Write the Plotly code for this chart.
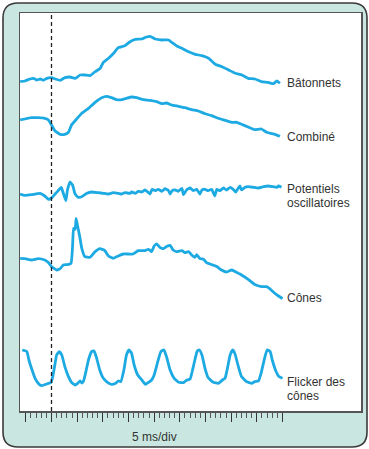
import plotly.graph_objects as go

# ---------------- data (time in ms, amplitude in arbitrary units) ----------------
bat_t = [-6.1, -5.2, -4.2, -3.5, -2.9, -2.2, -1.6, -0.9, 0.0, 0.7, 1.7, 2.6, 3.6, 4.6, 5.6, 6.5, 7.5,
         8.5, 9.5, 10.1, 11.1, 12.1, 13.0, 14.3, 15.3, 16.3, 17.6, 18.5, 19.2, 20.2, 21.5, 22.8, 23.4,
         24.4, 25.4, 26.7, 28.0, 29.3, 30.6, 31.9, 33.2, 34.5, 35.8, 37.1, 38.3, 39.6, 40.9, 42.2,
         43.2, 43.9, 44.5]
bat_v = [-1.7, -1.0, 1.0, 1.7, 0.0, 1.0, -0.3, 1.7, 2.3, 1.0, -0.3, 2.3, 3.0, 1.7, 5.0, 5.0, 4.3,
         8.3, 11.7, 17.7, 21.7, 26.7, 32.3, 34.3, 38.3, 40.7, 41.0, 43.0, 43.7, 41.0, 40.0, 40.0, 37.7,
         34.0, 31.7, 28.3, 25.7, 24.3, 21.7, 15.7, 13.3, 10.0, 6.7, 5.0, 1.7, 1.0, -1.7, -2.3,
         -3.7, -1.0, -3.3]

comb_t = [-6.1, -5.2, -3.9, -2.6, -1.3, -0.6, 0.0, 0.7, 1.7, 2.6, 3.3, 3.9, 4.9, 5.9, 7.2, 8.5, 9.8,
          10.7, 11.7, 12.7, 13.7, 14.6, 15.6, 16.6, 17.9, 19.2, 20.5, 21.5, 22.4, 23.4, 24.7, 26.0,
          27.3, 28.6, 29.9, 31.2, 32.5, 33.8, 35.1, 36.1, 37.0, 38.3, 39.6, 40.9, 41.9, 42.9, 43.5, 44.5]
comb_v = [0.0, 1.0, 2.3, 2.3, 1.7, 0.0, -5.0, -11.0, -14.3, -14.3, -12.3, -5.0, 1.0, 6.7, 11.7, 17.7,
          22.3, 23.7, 22.3, 20.3, 20.3, 21.7, 23.0, 22.3, 20.3, 19.7, 18.3, 16.3, 17.0, 15.0, 13.7,
          12.3, 10.3, 9.0, 6.3, 4.3, 1.7, -0.3, -2.3, -2.3, -4.3, -7.0, -9.7, -9.0, -12.3, -13.7,
          -14.3, -16.3]

po_t = [-6.1, -5.2, -3.9, -2.2, -1.3, -0.6, 0.0, 0.7, 1.3, 1.9, 2.3, 2.8, 3.1, 3.6, 4.1, 4.6, 5.2,
        5.9, 6.9, 7.8, 9.1, 10.1, 11.1, 12.0, 13.0, 13.7, 14.3, 15.3, 15.6, 16.3, 16.9, 17.6, 18.2,
        18.9, 19.2, 19.6, 20.2, 20.8, 21.5, 22.1, 22.8, 23.1, 23.5, 24.1, 24.7, 25.4, 25.7, 26.3,
        27.0, 27.6, 28.3, 28.9, 29.3, 29.9, 30.5, 31.2, 31.5, 31.8, 32.2, 32.8, 33.5, 34.1, 34.8,
        35.4, 35.9, 36.3, 36.7, 37.0, 37.7, 38.3, 39.3, 40.3, 41.3, 42.2, 43.2, 43.9, 44.2, 44.8]
po_v = [0.0, -1.3, -0.7, 0.7, -2.0, -5.3, -4.0, 0.0, 3.3, 6.7, 0.7, -6.7, 4.0, 12.0, 9.0, 0.0, -3.3,
        -2.7, 0.7, 2.0, 1.3, 0.7, 0.0, 1.3, 0.7, 0.0, 1.3, 0.7, 2.0, 0.7, 2.7, 2.0, 4.0,
        1.3, 0.0, 4.7, 3.3, 4.7, 2.7, 5.3, 3.3, 0.0, 3.3, 4.0, 2.7, 5.7, -0.7, 4.0,
        6.0, 3.3, 4.7, 0.0, 4.0, 4.7, 3.3, 4.7, 1.3, -2.0, 4.7, 3.3, 6.0, 4.0, 6.7,
        4.7, 2.0, 5.3, 8.0, 4.0, 6.7, 7.3, 6.7, 6.0, 7.3, 8.0, 7.3, 6.7, 8.0, 6.7]

cone_t = [-6.1, -5.2, -3.9, -2.6, -1.3, -0.6, 0.0, 1.0, 1.7, 2.3, 3.1, 3.8, 4.1, 4.3, 4.6, 4.8, 5.1,
          5.5, 5.9, 6.5, 7.5, 8.5, 9.4, 10.4, 11.1, 12.0, 13.0, 14.0, 15.0, 15.9, 16.9, 18.2, 18.9,
          19.5, 20.0, 20.5, 21.1, 21.8, 22.4, 23.1, 23.7, 24.4, 25.4, 26.0, 26.7, 27.3, 27.9, 28.3,
          28.9, 29.6, 30.2, 31.2, 32.2, 33.1, 34.1, 35.1, 36.1, 37.0, 38.3, 39.6, 40.9, 41.9, 42.5,
          43.2, 44.2, 45.0]
cone_v = [0.0, -0.3, -1.7, -0.3, -1.7, -4.3, -8.3, -11.7, -10.3, -6.7, -6.3, -5.0, 11.7, 30.0, 29.0,
          40.0, 31.7, 21.7, 10.0, 1.7, 1.0, 6.7, 9.7, 7.7, 2.3, 0.0, 2.3, 4.3, 4.3, 4.3, 7.7, 7.7, 9.0,
          6.7, 12.3, 14.3, 11.0, 9.7, 11.7, 13.0, 8.3, 6.7, 7.7, 5.7, 6.7, 3.3, 1.0, 3.7,
          -0.3, -1.0, -4.3, -6.3, -8.3, -11.7, -13.7, -11.7, -14.3, -16.7, -21.0, -26.3, -28.3, -28.3,
          -30.3, -33.7, -37.7, -40.3]

flk_t = [-5.7, -4.8, -4.4, -3.9, -3.2, -2.4, -1.8, -1.1, -0.6, -0.1, 0.2, 0.6, 1.0, 1.5, 2.0, 2.6,
         3.3, 3.9, 4.6, 5.1, 5.6, 5.9, 6.2, 6.7, 7.2, 7.8, 8.3, 8.8, 9.4, 10.1, 10.9, 11.7, 12.4,
         13.0, 13.5, 14.1, 14.6, 15.1, 15.6, 16.1, 16.8, 17.6, 18.3, 18.9, 19.5, 20.0, 20.7, 21.3,
         21.9, 22.4, 23.1, 23.9, 24.8, 25.7, 26.3, 27.0, 27.4, 28.0, 28.4, 28.8, 29.3, 29.9, 30.5,
         31.5, 32.5, 33.3, 33.8, 34.2, 34.8, 35.3, 35.7, 36.4, 37.0, 38.0, 39.0, 39.6, 40.3, 40.9,
         41.5, 42.0, 42.6, 43.0, 43.7, 44.3, 45.0]
flk_v = [33.3, 31.7, 23.3, 15.0, 5.0, -1.0, -2.3, -1.0, 0.0, 0.7, 5.7, 16.7, 28.3, 31.7, 28.3, 16.7,
         6.7, 1.0, -1.7, 0.0, 2.3, 0.3, 1.7, 11.7, 23.3, 31.7, 32.3, 25.0, 13.3, 5.0, 1.0, -1.0, -0.3,
         2.3, 1.7, 13.3, 28.3, 33.3, 30.0, 18.3, 8.3, 3.3, -1.0, 1.0, 3.3, 8.3, 21.7, 31.7,
         33.3, 26.7, 13.3, 5.0, 1.0, 0.7, 3.0, 4.3, 11.7, 25.0, 32.3, 33.3, 28.3, 15.0, 5.7,
         1.0, 0.0, 3.3, 5.0, 13.3, 28.3, 33.3, 30.0, 16.7, 6.7, 1.7, 0.0, 1.7, 2.3, 11.7,
         25.0, 33.3, 31.7, 23.3, 12.3, 6.7, 5.0]

trace_names = ["Bâtonnets", "Combiné", "Potentiels oscillatoires", "Cônes", "Flicker des cônes"]
trace_offsets = [331, 291, 217, 152.7, 27.7]   # vertical stacking of the records
label_lines = [["Bâtonnets"], ["Combiné"], ["Potentiels", "oscillatoires"], ["Cônes"], ["Flicker des", "cônes"]]
label_y = [[328], [274], [222, 208], [113], [29, 15]]

major_ticks = [-5, 0, 5, 10, 15, 20, 25, 30, 35, 40, 45]
minor_ticks = [m + k for m in major_ticks[:-1] for k in (1, 2, 3, 4)]
scale_label = "5 ms/div"

# ---------------- figure ----------------
W, H = 369, 449
LINE = "#1DAAE3"
TXT = "#333333"

series = [(bat_t, bat_v), (comb_t, comb_v), (po_t, po_v), (cone_t, cone_v), (flk_t, flk_v)]

fig = go.Figure()
for (t, v), name, off in zip(series, trace_names, trace_offsets):
    fig.add_trace(go.Scatter(
        x=t, y=[off + a for a in v], mode="lines", name=name,
        line=dict(color=LINE, width=2.8, shape="spline", smoothing=0.4),
        hoverinfo="skip", showlegend=False))

# plot area in pixels
x0p, x1p, y0p, y1p = 20, 361, 13, 411

def px(x):
    return x / W

def py(y):
    return (H - y) / H

# outer rounded panel
L, R, T, B, r = 3, 367, 3, 447, 15
path = (f"M {px(L+r)},{py(T)} L {px(R-r)},{py(T)} Q {px(R)},{py(T)} {px(R)},{py(T+r)} "
        f"L {px(R)},{py(B-r)} Q {px(R)},{py(B)} {px(R-r)},{py(B)} "
        f"L {px(L+r)},{py(B)} Q {px(L)},{py(B)} {px(L)},{py(B-r)} "
        f"L {px(L)},{py(T+r)} Q {px(L)},{py(T)} {px(L+r)},{py(T)} Z")
fig.add_shape(type="path", path=path, xref="paper", yref="paper", layer="below",
              fillcolor="#C9E7E0", line=dict(color="#3a3a3a", width=1.6))
fig.add_shape(type="rect", xref="paper", yref="paper", layer="below",
              x0=px(x0p), x1=px(x1p), y0=py(y1p), y1=py(y0p),
              fillcolor="white", line=dict(width=0))

fig.add_vline(x=0, line=dict(color="#222222", width=1.3, dash="4px,3px"))

for lines, ys in zip(label_lines, label_y):
    for txt, yy in zip(lines, ys):
        fig.add_annotation(x=45.5, y=yy, xref="x", yref="y", text=txt, showarrow=False,
                           xanchor="left", yanchor="middle",
                           font=dict(family="Liberation Sans, Arial", size=12, color=TXT))

fig.add_annotation(x=px(154.3), y=py(437), xref="paper", yref="paper", text=scale_label,
                   showarrow=False, xanchor="center", yanchor="middle",
                   font=dict(family="Liberation Sans, Arial", size=12, color=TXT))

fig.update_layout(
    width=W, height=H, autosize=False,
    margin=dict(l=0, r=0, t=0, b=0),
    paper_bgcolor="white", plot_bgcolor="rgba(0,0,0,0)",
    xaxis=dict(domain=[px(x0p), px(x1p)], range=[(x0p - 51.5) / 5.134, (x1p - 51.5) / 5.134],
               showgrid=False, zeroline=False, showline=True, mirror=True,
               linecolor="#555555", linewidth=1.5,
               tickmode="array", tickvals=major_ticks, showticklabels=False,
               ticks="outside", ticklen=9, tickwidth=1.2, tickcolor="#333333",
               minor=dict(tickmode="array", tickvals=minor_ticks, ticks="outside",
                          ticklen=5, tickwidth=1, tickcolor="#555555")),
    yaxis=dict(domain=[py(y1p), py(y0p)], range=[0, y1p - y0p],
               showgrid=False, zeroline=False, showline=True, mirror=True,
               linecolor="#555555", linewidth=1.5, showticklabels=False, ticks=""),
)

fig.write_html("out.html", config={"displayModeBar": False, "staticPlot": True},
               post_script="document.body.style.margin='0';document.body.style.padding='0';"
                           "document.body.style.overflow='hidden';")
